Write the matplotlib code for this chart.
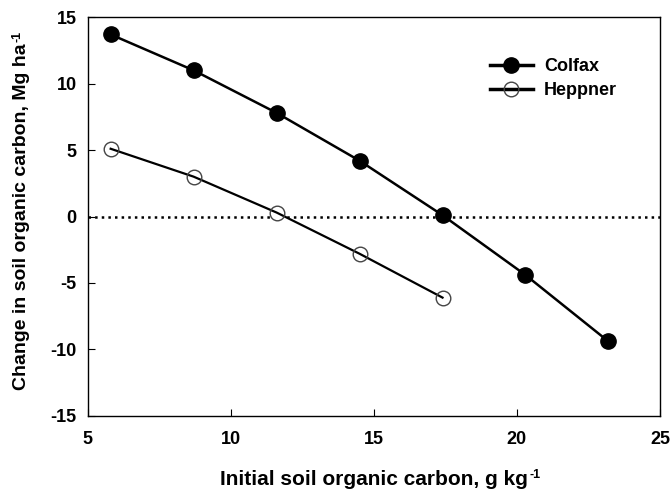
import matplotlib
matplotlib.use("Agg")
import matplotlib.pyplot as plt

# data
colfax_x = [5.8, 8.7, 11.6, 14.5, 17.4, 20.3, 23.2]
colfax_y = [13.7, 11.0, 7.8, 4.2, 0.1, -4.4, -9.4]
heppner_x = [5.8, 8.7, 11.6, 14.5, 17.4]
heppner_y = [5.1, 3.0, 0.3, -2.8, -6.1]
xticks = [5, 10, 15, 20, 25]
yticks = [-15, -10, -5, 0, 5, 10, 15]

plt.rcParams['font.family'] = ['Liberation Sans', 'DejaVu Sans']
plt.rcParams['font.weight'] = 'bold'
plt.rcParams['axes.unicode_minus'] = False

fig = plt.figure(figsize=(6.7, 4.91), dpi=100)
ax = fig.add_axes([0.131, 0.153, 0.854, 0.812])

ax.axhline(0, color='black', linestyle=':', linewidth=1.8, zorder=1)
ax.plot(colfax_x, colfax_y, color='black', linewidth=1.8, marker='o',
        markersize=11, markerfacecolor='black', markeredgecolor='black',
        label='Colfax', zorder=3)
# white fill under the open circles, line drawn on top
ax.plot(heppner_x, heppner_y, linestyle='none', marker='o', markersize=10.5,
        markerfacecolor='white', markeredgecolor='none', zorder=2)
ax.plot(heppner_x, heppner_y, color='black', linewidth=1.6, marker='o',
        markersize=10.5, markerfacecolor='none', markeredgecolor='#444444',
        markeredgewidth=1.0, label='Heppner', zorder=3)

ax.set_xlim(5, 25)
ax.set_ylim(-15, 15)
ax.set_xticks(xticks)
ax.set_yticks(yticks)
ax.tick_params(direction='in', length=5, labelsize=13)
ax.tick_params(axis='x', pad=11)
ax.tick_params(axis='y', pad=8)
for s in ax.spines.values():
    s.set_linewidth(1.0)

ax.set_xlabel('Initial soil organic carbon, g kg', fontsize=15,
              fontweight='bold', labelpad=16)
ax.set_ylabel('Change in soil organic carbon, Mg ha', fontsize=14,
              fontweight='bold', labelpad=15)

leg = ax.legend(loc='upper right', bbox_to_anchor=(0.953, 0.938), frameon=False,
                fontsize=13, handlelength=2.4, handletextpad=0.6, labelspacing=0.4)
for h in leg.get_lines():
    h.set_linewidth(2.5)

# superscripts with a plain hyphen
fig.canvas.draw()
r = fig.canvas.get_renderer()
W, H = fig.bbox.width, fig.bbox.height
bx = ax.xaxis.label.get_window_extent(r)
fig.text(bx.x1 / W + 0.002, (bx.y1 + 1) / H, '-1', fontsize=9, fontweight='bold',
         ha='left', va='top')
by = ax.yaxis.label.get_window_extent(r)
fig.text((by.x0 - 1) / W, by.y1 / H + 0.002, '-1', fontsize=9, fontweight='bold',
         rotation=90, ha='left', va='bottom')

fig.savefig('out.png', dpi=100)
